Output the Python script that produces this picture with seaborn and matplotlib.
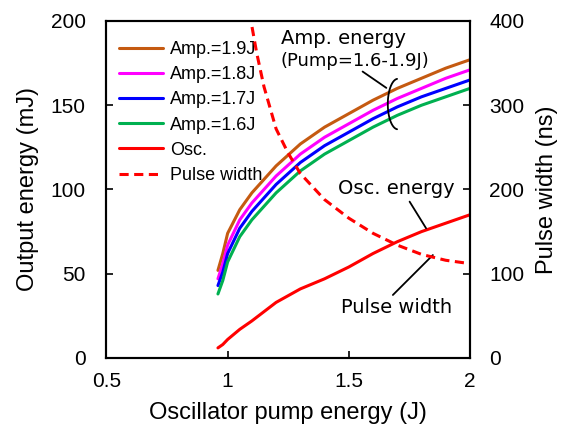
import matplotlib
matplotlib.use("Agg")
import matplotlib.pyplot as plt
import seaborn as sns
import pandas as pd
import numpy as np

# pump energy grid (J)
pump = [0.96, 0.98, 1.0, 1.05, 1.1, 1.2, 1.3, 1.4, 1.5, 1.6, 1.7, 1.8, 1.9, 2.0]

# amplified output (mJ)
amp_19 = [52, 62, 74, 88, 98, 114, 127, 137, 145, 153, 160, 166, 172, 177]
amp_18 = [47, 56, 67, 82, 92, 108, 121, 131, 139, 147, 154, 160, 166, 171]
amp_17 = [43, 51, 62, 77, 87, 103, 116, 126, 134, 142, 149, 155, 160, 165]
amp_16 = [38, 46, 57, 72, 82, 98, 111, 121, 129, 137, 144, 150, 155, 160]

# oscillator output (mJ)
osc = [6, 8, 11, 17, 22, 33, 41, 47, 54, 62, 69, 75, 80, 85]

# pulse width (ns)
pw_pump = [1.09, 1.12, 1.15, 1.2, 1.25, 1.3, 1.4, 1.5, 1.6, 1.7, 1.8, 1.9, 2.0]
pulse_width = [410, 362, 322, 272, 243, 219, 188, 166, 148, 134, 123, 116, 112]

amp_labels = ["Amp.=1.9J", "Amp.=1.8J", "Amp.=1.7J", "Amp.=1.6J"]
amp_colors = ["#C55A11", "#FF00FF", "#0000FF", "#00B050"]

sns.set_theme(style="white")
plt.rcParams["font.family"] = ["Liberation Sans", "DejaVu Sans"]
plt.rcParams["text.color"] = "black"
plt.rcParams["axes.labelcolor"] = "black"
plt.rcParams["xtick.color"] = "black"
plt.rcParams["ytick.color"] = "black"

fig = plt.figure(figsize=(5.71, 4.32), dpi=100)
ax = fig.add_axes([0.1865, 0.1713, 0.823 - 0.1865, 0.9514 - 0.1713])
ax2 = ax.twinx()

lw = 2.2
for lab, col, vals in zip(amp_labels, amp_colors, [amp_19, amp_18, amp_17, amp_16]):
    df = pd.DataFrame({"pump": pump, "energy": vals})
    sns.lineplot(data=df, x="pump", y="energy", ax=ax, color=col, lw=lw, label=lab, legend=False)

df_osc = pd.DataFrame({"pump": pump, "energy": osc})
sns.lineplot(data=df_osc, x="pump", y="energy", ax=ax, color="#FF0000", lw=lw, label="Osc.", legend=False)

df_pw = pd.DataFrame({"pump": pw_pump, "width": pulse_width})
sns.lineplot(data=df_pw, x="pump", y="width", ax=ax2, color="#FF0000", lw=lw,
             label="Pulse width", legend=False)
ax2.get_lines()[0].set_dashes([3.0, 1.8])

ax.set_xlim(0.5, 2)
ax.set_ylim(0, 200)
ax2.set_ylim(0, 400)
ax.set_xticks([0.5, 1, 1.5, 2])
ax.set_xticklabels(["0.5", "1", "1.5", "2"])
ax.set_yticks([0, 50, 100, 150, 200])
ax2.set_yticks([0, 100, 200, 300, 400])

ax.set_xlabel("Oscillator pump energy (J)", fontsize=17, labelpad=8)
ax.set_ylabel("Output energy (mJ)", fontsize=17, labelpad=8)
ax2.set_ylabel("Pulse width (ns)", fontsize=17, labelpad=8)

ax.tick_params(axis="both", direction="in", length=5, width=1.2, labelsize=15, pad=15,
               colors="black", left=True, bottom=True, top=False, right=False)
ax.tick_params(axis="x", pad=10)
ax2.tick_params(axis="y", direction="in", length=5, width=1.2, labelsize=15, pad=14,
                colors="black", right=True, left=False)
for a in (ax, ax2):
    for s in a.spines.values():
        s.set_color("black")
        s.set_linewidth(1.5)

handles = ax.get_lines()[:5] + ax2.get_lines()[:1]
labels = amp_labels + ["Osc.", "Pulse width"]
ax.legend(handles, labels, loc="upper left", bbox_to_anchor=(0.035, 0.94),
          frameon=False, fontsize=13, handlelength=2.4, handletextpad=0.4,
          labelspacing=0.45, borderpad=0, borderaxespad=0)

# annotations
ax.text(1.478, 189.7, "Amp. energy", fontsize=14, family="DejaVu Sans", ha="center", va="center")
ax.text(1.527, 176.5, "(Pump=1.6-1.9J)", fontsize=13, family="DejaVu Sans", ha="center", va="center")
ax.annotate("", xy=(1.655, 160.3), xytext=(1.557, 170),
            arrowprops=dict(arrowstyle="-", color="black", lw=1.3, shrinkA=0, shrinkB=0))
t = np.linspace(np.radians(95), np.radians(265), 40)
ax.plot(1.703 + 0.042 * np.cos(t), 150.7 + 15 * np.sin(t), color="black", lw=1.3)

ax.text(1.696, 100.7, "Osc. energy", fontsize=14, family="DejaVu Sans", ha="center", va="center")
ax.annotate("", xy=(1.819, 77), xytext=(1.751, 92.8),
            arrowprops=dict(arrowstyle="-", color="black", lw=1.3, shrinkA=0, shrinkB=0))

ax.text(1.699, 30.1, "Pulse width", fontsize=14, family="DejaVu Sans", ha="center", va="center")
ax.annotate("", xy=(1.847, 61.1), xytext=(1.682, 37.4),
            arrowprops=dict(arrowstyle="-", color="black", lw=1.3, shrinkA=0, shrinkB=0))

fig.savefig("out.png", dpi=100)
